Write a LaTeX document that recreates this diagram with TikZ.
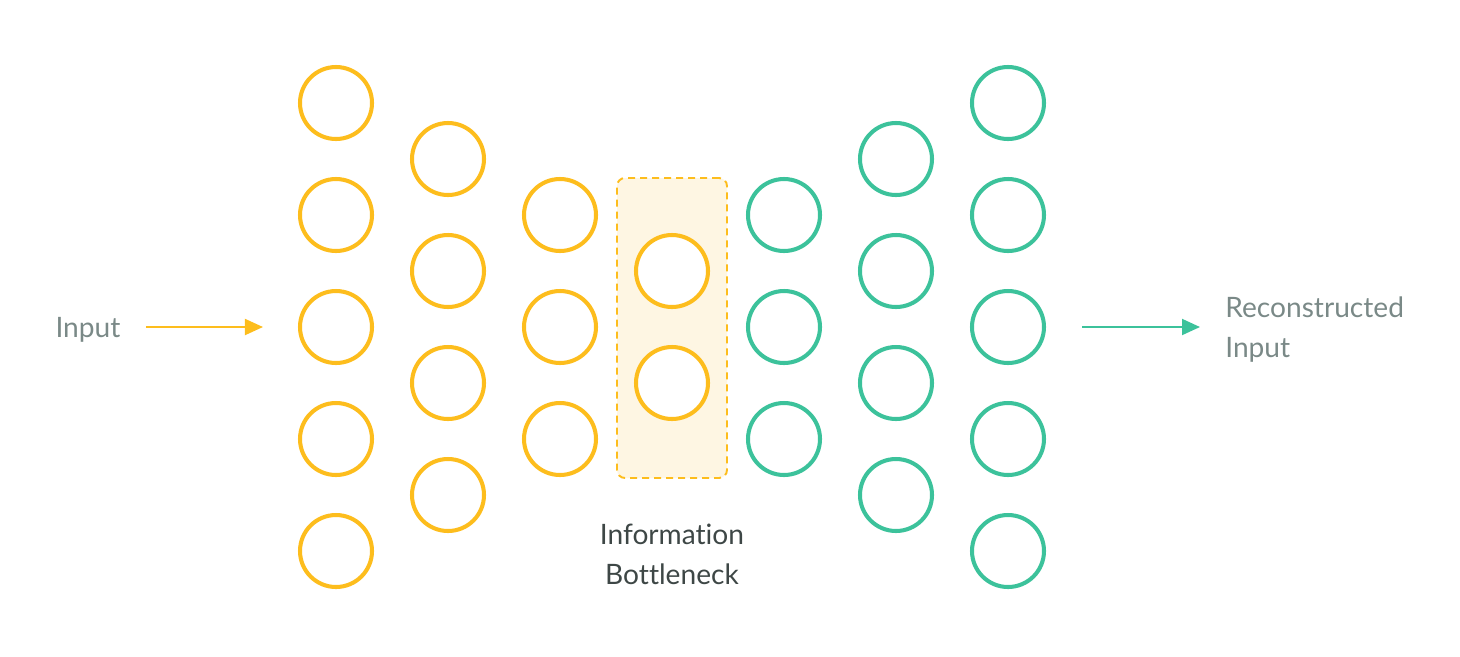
\documentclass[tikz,border=0pt]{standalone}
\usepackage{fontspec}
\setmainfont{Lato}[Ligatures={NoCommon}]
\usetikzlibrary{arrows.meta, positioning}
\definecolor{encyellow}{HTML}{FDBD1D}
\definecolor{decgreen}{HTML}{3CC29B}
\definecolor{softgray}{HTML}{7A8987}
\definecolor{darkgray}{HTML}{3E4746}
\definecolor{paleyellow}{HTML}{FEF6E3}
\tikzstyle{encoder} = [circle, minimum size=1.44cm, inner sep=0pt, draw=encyellow, line width=2.3pt, fill=white]
\tikzstyle{decoder} = [circle, minimum size=1.44cm, inner sep=0pt, draw=decgreen, line width=2.3pt, fill=white]
\tikzstyle{bottle} = [rectangle, rounded corners=0.16cm, minimum width=2.2cm, minimum height=6cm, draw=encyellow, fill=paleyellow, line width=1.1pt, dash pattern=on 0.14cm off 0.1cm]
\tikzstyle{sidetext} = [inner sep=0pt, text=softgray, font=\fontsize{16}{22.8}\selectfont]
\tikzstyle{arrow} = [line width=1.1pt, -{Triangle[length=0.36cm, width=0.32cm]}]

\begin{document}
\begin{tikzpicture}[node distance=2.24cm]
\useasboundingbox (0,0) rectangle (29.2,-13.12);

% Bottleneck
\node (bneck) [bottle] at (13.44,-6.56) {};

% Encoder
\node (a1) [encoder] at (6.72,-2.06) {};
\node (a2) [encoder, below of=a1] {};
\node (a3) [encoder, below of=a2] {};
\node (a4) [encoder, below of=a3] {};
\node (a5) [encoder, below of=a4] {};
\node (b1) [encoder, right of=a1, yshift=-1.12cm] {};
\node (b2) [encoder, below of=b1] {};
\node (b3) [encoder, below of=b2] {};
\node (b4) [encoder, below of=b3] {};
\node (c1) [encoder, right of=b1, yshift=-1.12cm] {};
\node (c2) [encoder, below of=c1] {};
\node (c3) [encoder, below of=c2] {};
\node (d1) [encoder, right of=c1, yshift=-1.12cm] {};
\node (d2) [encoder, below of=d1] {};

% Decoder
\node (e1) [decoder, right of=d1, yshift=1.12cm] {};
\node (e2) [decoder, below of=e1] {};
\node (e3) [decoder, below of=e2] {};
\node (f1) [decoder, right of=e1, yshift=1.12cm] {};
\node (f2) [decoder, below of=f1] {};
\node (f3) [decoder, below of=f2] {};
\node (f4) [decoder, below of=f3] {};
\node (g1) [decoder, right of=f1, yshift=1.12cm] {};
\node (g2) [decoder, below of=g1] {};
\node (g3) [decoder, below of=g2] {};
\node (g4) [decoder, below of=g3] {};
\node (g5) [decoder, below of=g4] {};

% Texte
\node (inp) [sidetext] at (1.76,-6.6) {Input};
\node (out) [sidetext, anchor=west, align=left] at (24.5,-6.6) {Reconstructed\\Input};
\node (lbl) [sidetext, text=darkgray, align=center, below=0.9cm of bneck] {Information\\Bottleneck};

% Setas
\draw [arrow, draw=encyellow, fill=encyellow, shorten <=0.5cm, shorten >=0.7cm] (inp.east |- a3) -- (a3);
\draw [arrow, draw=decgreen, fill=decgreen, shorten <=0.72cm, shorten >=0.5cm] (g3) -- (out.west |- g3);

\end{tikzpicture}
\end{document}
